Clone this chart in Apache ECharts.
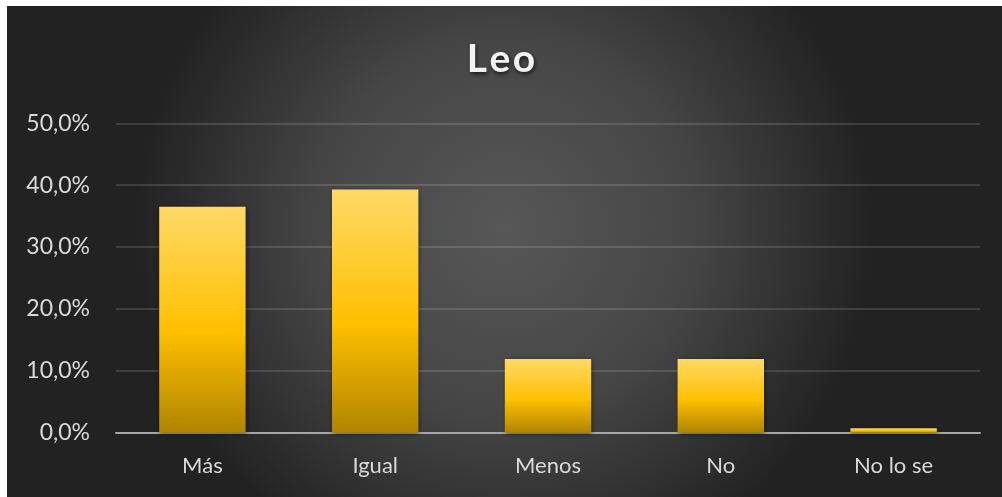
<!DOCTYPE html>
<html><head><meta charset="utf-8">
<script src="https://cdn.jsdelivr.net/npm/echarts@6/dist/echarts.min.js"></script>
<style>html,body{margin:0;padding:0;background:#fff}#c{width:1002px;height:497px}</style>
</head><body><div id="c"></div>
<script>
const title = 'Leo';
const categories = ['Más', 'Igual', 'Menos', 'No', 'No lo se'];
const values = [0.365, 0.393, 0.119, 0.119, 0.007];
const yMin = 0, yMax = 0.5, yInterval = 0.1;

const chart = echarts.init(document.getElementById('c'));
const fmt = v => (v * 100).toFixed(1).replace('.', ',') + '%';
chart.setOption({
  backgroundColor: '#ffffff',
  animation: false,
  graphic: [{
    type: 'rect', z: -10, silent: true,
    shape: { x: 7, y: 6, width: 995, height: 491 },
    style: { fill: new echarts.graphic.RadialGradient(0.5, 0.45, 0.75, [
      { offset: 0, color: '#575757' },
      { offset: 0.5, color: '#464646' },
      { offset: 1, color: '#222222' }
    ]) }
  }],
  title: {
    text: title.split('').join('\u200A'), left: 'center', top: 35,
    textStyle: { color: '#f2f2f2', fontSize: 39, fontWeight: 'bold', fontFamily: 'Lato, "Open Sans", sans-serif',
      textShadowColor: 'rgba(0,0,0,0.7)', textShadowBlur: 4, textShadowOffsetX: 1, textShadowOffsetY: 2 }
  },
  grid: { left: 116, right: 22, top: 123.3, bottom: 64.3, containLabel: false },
  xAxis: {
    type: 'category', data: categories,
    axisLine: { lineStyle: { color: '#a6a6a6', width: 2 } },
    axisTick: { show: false },
    axisLabel: { color: '#d9d9d9', fontSize: 22, margin: 22, fontFamily: 'Lato, sans-serif' }
  },
  yAxis: {
    type: 'value', min: yMin, max: yMax, interval: yInterval,
    axisLine: { show: false }, axisTick: { show: false },
    splitLine: { lineStyle: { color: 'rgba(255,255,255,0.18)', width: 1.5 } },
    axisLabel: { color: '#d9d9d9', fontSize: 23, margin: 26, formatter: fmt, fontFamily: 'Lato, sans-serif' }
  },
  series: [{
    type: 'bar', data: values, barWidth: '50%',
    itemStyle: {
      color: new echarts.graphic.LinearGradient(0, 0, 0, 1, [
        { offset: 0, color: '#ffd966' },
        { offset: 0.55, color: '#ffc000' },
        { offset: 1, color: '#b08400' }
      ]),
      shadowColor: 'rgba(0,0,0,0.55)', shadowBlur: 5, shadowOffsetX: 1, shadowOffsetY: 1
    }
  }]
});
</script></body></html>
